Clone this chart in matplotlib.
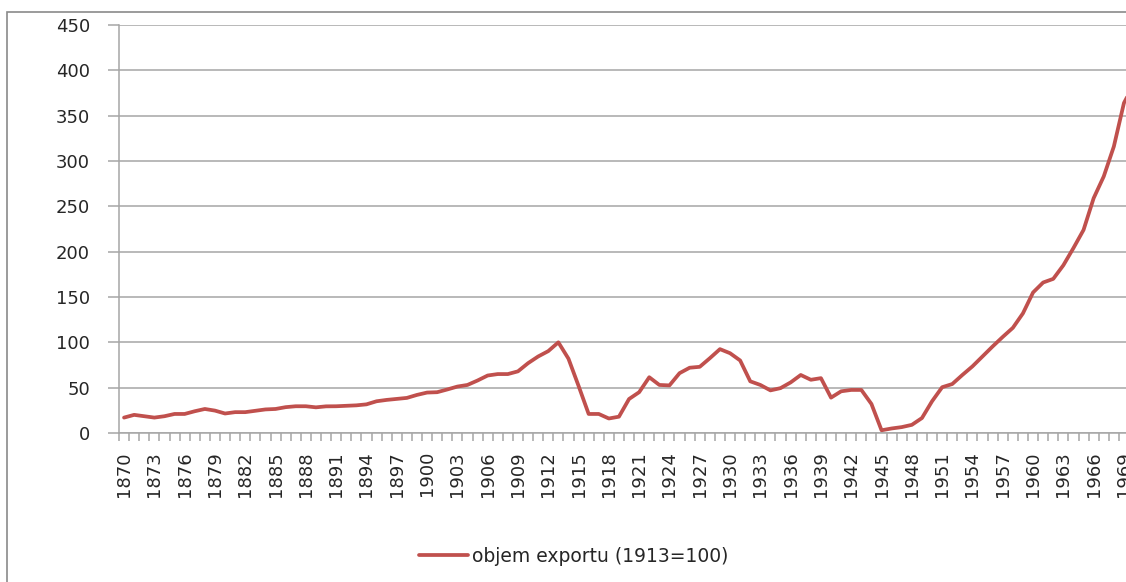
import numpy as np
import matplotlib
matplotlib.use("Agg")
import matplotlib.pyplot as plt
from matplotlib.patches import Rectangle

years = list(range(1870, 1971))
export_volume = [
    17, 20, 18.5, 17, 18.5, 21, 21, 24, 26.5, 24.7,          # 1870-1879
    21.5, 23, 23, 24.5, 26, 26.5, 28.5, 29.5, 29.5, 28.3,    # 1880-1889
    29.4, 29.5, 30, 30.5, 31.6, 35, 36.5, 37.6, 38.7, 42,    # 1890-1899
    44.6, 45, 48, 51.2, 53, 57.9, 63.4, 65, 65, 68,          # 1900-1909
    77, 84.4, 90.3, 100, 82, 52, 21, 21, 16, 18,             # 1910-1919
    37.5, 45, 61.5, 53, 52.5, 66, 72, 73, 82.5, 92.5,        # 1920-1929
    88, 80, 57, 53, 47, 49.5, 55.8, 64, 58.7, 60.5,          # 1930-1939
    39, 46, 47.5, 47.5, 32, 3, 5, 6.5, 9, 16.5,              # 1940-1949
    35, 50.5, 54, 64, 73.5, 84.5, 95.5, 106, 116, 132,       # 1950-1959
    155, 166, 170, 185, 204, 224, 259, 283, 316, 364,        # 1960-1969
    385,                                                     # 1970
]
y_ticks = [0, 50, 100, 150, 200, 250, 300, 350, 400, 450]
label_years = list(range(1870, 1971, 3))
series_label = "objem exportu (1913=100)"

W, H = 1126, 582
fig = plt.figure(figsize=(W / 100, H / 100), dpi=100)
fig.patch.set_facecolor("white")

# outer chart frame (extends past right/bottom edge of image)
fig.patches.append(Rectangle((7.5 / W, -0.2), 1.5, 1.2 - 11.5 / H,
                             transform=fig.transFigure, fill=False,
                             edgecolor="#8a8a8a", linewidth=1.2, zorder=0))

n = len(years)
cat_w = 10.1
left_px, bottom_px, top_px = 119, 433, 25
ax = fig.add_axes([left_px / W, 1 - bottom_px / H,
                   cat_w * n / W, (bottom_px - top_px) / H])

x = np.arange(n)
ax.plot(x, export_volume, color="#C0504D", linewidth=2.7,
        solid_joinstyle="round", solid_capstyle="round",
        label=series_label, zorder=3, clip_on=False)

ax.set_xlim(-0.5, n - 0.5)
ax.set_ylim(0, 450)
ax.set_yticks(y_ticks)
ax.set_yticklabels([str(v) for v in y_ticks])
ax.yaxis.grid(True, color="#a6a6a6", linewidth=1.1)
ax.set_axisbelow(True)

pos = [years.index(yv) for yv in label_years]
ax.set_xticks(pos)
ax.set_xticklabels([str(yv) for yv in label_years], rotation=90)
ax.set_xticks(np.arange(-0.5, n, 1), minor=True)
ax.tick_params(axis="x", which="major", length=0, pad=13,
               labelsize=13, labelcolor="#262626")
ax.tick_params(axis="x", which="minor", length=6, color="#a6a6a6", width=1.1)
ax.tick_params(axis="y", which="major", length=8, color="#a6a6a6", width=1.1,
               labelsize=13, labelcolor="#262626", pad=13)

for s in ["top", "right"]:
    ax.spines[s].set_visible(False)
for s in ["left", "bottom"]:
    ax.spines[s].set_color("#a6a6a6")
    ax.spines[s].set_linewidth(1.1)

fig.legend(loc="center left", bbox_to_anchor=(419 / W, 1 - 556 / H),
           frameon=False, borderpad=0, borderaxespad=0,
           handlelength=2.6, handletextpad=0.25,
           prop={"size": 13.5}, labelcolor="#262626")

fig.savefig("out.png", dpi=100, facecolor="white")
